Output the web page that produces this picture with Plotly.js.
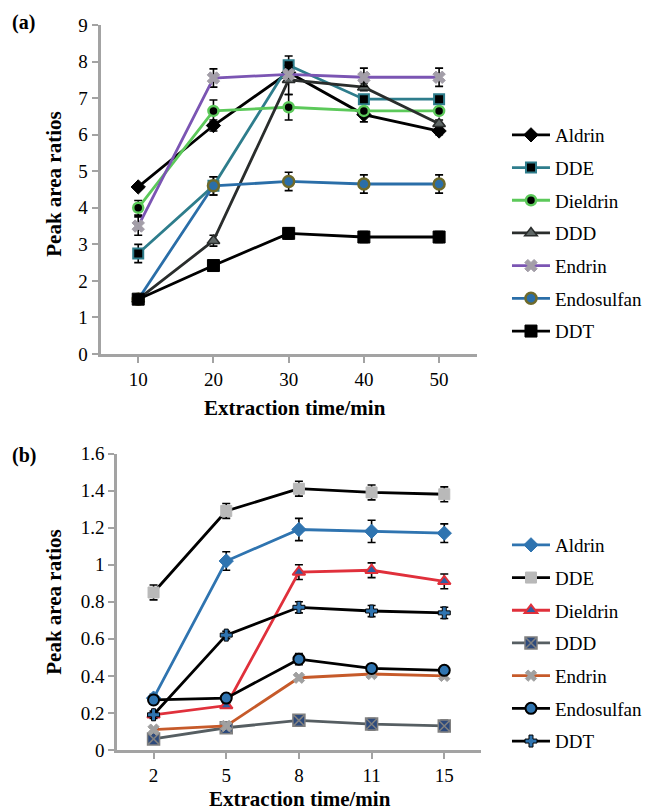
<!DOCTYPE html>
<html>
<head>
<meta charset="utf-8">
<script src="https://cdn.plot.ly/plotly-3.0.1.min.js"></script>
<style>html,body{margin:0;padding:0;background:#fff;}#chart{width:648px;height:810px;}</style>
</head>
<body>
<div id="chart"></div>
<script>
// ---- Data: panel (a) ----
const timesA = ["10", "20", "30", "40", "50"];
const seriesNames = ["Aldrin", "DDE", "Dieldrin", "DDD", "Endrin", "Endosulfan", "DDT"];
const aAldrin = [4.57, 6.25, 7.7, 6.55, 6.1];
const aDDE = [2.75, 4.6, 7.9, 6.97, 6.97];
const aDieldrin = [4.0, 6.65, 6.75, 6.65, 6.65];
const aDDD = [1.5, 3.1, 7.5, 7.3, 6.3];
const aEndrin = [3.5, 7.55, 7.65, 7.57, 7.57];
const aEndosulfan = [1.5, 4.6, 4.72, 4.65, 4.65];
const aDDT = [1.5, 2.42, 3.3, 3.2, 3.2];
const eAldrin = [0.05, 0.15, 0.15, 0.2, 0.1];
const eDDE = [0.25, 0.25, 0.25, 0.1, 0.1];
const eDieldrin = [0.2, 0.3, 0.35, 0.1, 0.1];
const eDDD = [0.05, 0.15, 0.4, 0.1, 0.1];
const eEndrin = [0.25, 0.25, 0.1, 0.25, 0.25];
const eEndosulfan = [0.05, 0.25, 0.25, 0.25, 0.25];
const eDDT = [0.05, 0.1, 0.15, 0.15, 0.15];

// ---- Data: panel (b) ----
const timesB = ["2", "5", "8", "11", "15"];
const bAldrin = [0.28, 1.02, 1.19, 1.18, 1.17];
const bDDE = [0.85, 1.29, 1.41, 1.39, 1.38];
const bDieldrin = [0.19, 0.24, 0.96, 0.97, 0.91];
const bDDD = [0.06, 0.12, 0.16, 0.14, 0.13];
const bEndrin = [0.11, 0.13, 0.39, 0.41, 0.40];
const bEndosulfan = [0.27, 0.28, 0.49, 0.44, 0.43];
const bDDT = [0.19, 0.62, 0.77, 0.75, 0.74];
const fAldrin = [0.02, 0.05, 0.06, 0.06, 0.05];
const fDDE = [0.04, 0.04, 0.04, 0.04, 0.04];
const fDieldrin = [0.01, 0.01, 0.04, 0.04, 0.04];
const fDDD = [0.02, 0.02, 0.03, 0.03, 0.03];
const fEndrin = [0.01, 0.01, 0.01, 0.01, 0.01];
const fEndosulfan = [0.02, 0.02, 0.03, 0.02, 0.02];
const fDDT = [0.02, 0.02, 0.03, 0.03, 0.03];

const serif = "Liberation Serif";

function tr(x, y, err, name, lineColor, marker, xa, ya, leg, grp) {
  return {
    type: "scatter", mode: "lines+markers", x: x, y: y, name: name,
    xaxis: xa, yaxis: ya, legend: leg, legendgroup: grp,
    line: {color: lineColor, width: 2.8},
    marker: marker,
    error_y: {type: "data", array: err, visible: true, color: "#000", thickness: 1.6, width: 4}
  };
}

const dataA = [
  tr(timesA, aAldrin, eAldrin, seriesNames[0], "#000000", {symbol: "diamond", size: 11, color: "#000", line: {color: "#000", width: 1}}, "x", "y", "legend", "a1"),
  tr(timesA, aDDE, eDDE, seriesNames[1], "#2e7d8c", {symbol: "square", size: 10, color: "#000", line: {color: "#2e7d8c", width: 2}}, "x", "y", "legend", "a2"),
  tr(timesA, aDieldrin, eDieldrin, seriesNames[2], "#5cc95a", {symbol: "circle", size: 10, color: "#000", line: {color: "#5cc95a", width: 2.5}}, "x", "y", "legend", "a3"),
  tr(timesA, aDDD, eDDD, seriesNames[3], "#2a2d2c", {symbol: "triangle-up", size: 11, color: "#5f6766", line: {color: "#2a2d2c", width: 1.5}}, "x", "y", "legend", "a4"),
  tr(timesA, aEndrin, eEndrin, seriesNames[4], "#7b55b3", {symbol: "x", size: 11, color: "#a39ea8", line: {color: "#a39ea8", width: 1}}, "x", "y", "legend", "a5"),
  tr(timesA, aEndosulfan, eEndosulfan, seriesNames[5], "#2a6ea8", {symbol: "circle", size: 11, color: "#2a6ea8", line: {color: "#6f6a2a", width: 2.5}}, "x", "y", "legend", "a6"),
  tr(timesA, aDDT, eDDT, seriesNames[6], "#000000", {symbol: "square", size: 12, color: "#000", line: {color: "#000", width: 1}}, "x", "y", "legend", "a7")
];

const dataB = [
  tr(timesB, bAldrin, fAldrin, seriesNames[0], "#2f74b0", {symbol: "diamond", size: 11, color: "#2f74b0", line: {color: "#2f74b0", width: 1}}, "x2", "y2", "legend2", "b1"),
  tr(timesB, bDDE, fDDE, seriesNames[1], "#000000", {symbol: "square", size: 11, color: "#b9b9b9", line: {color: "#b9b9b9", width: 1}}, "x2", "y2", "legend2", "b2"),
  tr(timesB, bDieldrin, fDieldrin, seriesNames[2], "#e0303b", {symbol: "triangle-up", size: 11, color: "#2e5fa3", line: {color: "#e0303b", width: 2}}, "x2", "y2", "legend2", "b3"),
  tr(timesB, bDDD, fDDD, seriesNames[3], "#565e62", {symbol: "square-x", size: 12, color: "#2d4a7c", line: {color: "#808080", width: 1.5}}, "x2", "y2", "legend2", "b4"),
  tr(timesB, bEndrin, fEndrin, seriesNames[4], "#c65a2a", {symbol: "x", size: 10, color: "#a0a0a0", line: {color: "#a0a0a0", width: 1}}, "x2", "y2", "legend2", "b5"),
  tr(timesB, bEndosulfan, fEndosulfan, seriesNames[5], "#000000", {symbol: "circle", size: 11, color: "#2f74b0", line: {color: "#000", width: 2}}, "x2", "y2", "legend2", "b6"),
  tr(timesB, bDDT, fDDT, seriesNames[6], "#000000", {symbol: "cross", size: 10, color: "#2f74b0", line: {color: "#000", width: 1}}, "x2", "y2", "legend2", "b7")
];

const W = 648, H = 810;
const px = v => v / W;
const py = v => 1 - v / H;

const axisCommon = {
  showgrid: false, zeroline: false, showline: true, linecolor: "#a3a3a3", linewidth: 3,
  ticks: "outside", tickcolor: "#a3a3a3", tickwidth: 2, ticklen: 6,
  tickfont: {family: serif, size: 19, color: "#000"}
};

const legendCommon = {
  xanchor: "left", yanchor: "top", font: {family: serif, size: 19, color: "#000"},
  bgcolor: "rgba(0,0,0,0)", borderwidth: 0, traceorder: "grouped", tracegroupgap: 5, itemwidth: 38
};

const layout = {
  width: W, height: H, margin: {l: 0, r: 0, t: 0, b: 0},
  font: {family: serif, color: "#000"},
  paper_bgcolor: "#fff", plot_bgcolor: "#fff", showlegend: true,
  xaxis: Object.assign({}, axisCommon, {domain: [px(103), px(488)], anchor: "y", type: "category", range: [-0.5, 4.5]}),
  yaxis: Object.assign({}, axisCommon, {domain: [py(354), py(25)], anchor: "x", range: [0, 9], dtick: 1}),
  xaxis2: Object.assign({}, axisCommon, {domain: [px(120), px(492)], anchor: "y2", type: "category", range: [-0.5, 4.5]}),
  yaxis2: Object.assign({}, axisCommon, {domain: [py(750), py(453.5)], anchor: "x2", range: [0, 1.6], dtick: 0.2}),
  legend: Object.assign({}, legendCommon, {x: px(519), y: py(116)}),
  legend2: Object.assign({}, legendCommon, {x: px(519), y: py(526)}),
  annotations: [
    {text: "<b>(a)</b>", xref: "paper", yref: "paper", x: px(10), y: py(23), xanchor: "left", yanchor: "middle", showarrow: false, font: {family: serif, size: 20, color: "#000"}},
    {text: "<b>(b)</b>", xref: "paper", yref: "paper", x: px(10), y: py(455), xanchor: "left", yanchor: "middle", showarrow: false, font: {family: serif, size: 20, color: "#000"}},
    {text: "<b>Peak area ratios</b>", xref: "paper", yref: "paper", x: px(55), y: py(184), xanchor: "center", yanchor: "middle", textangle: -90, showarrow: false, font: {family: serif, size: 21, color: "#000"}},
    {text: "<b>Peak area ratios</b>", xref: "paper", yref: "paper", x: px(55), y: py(602), xanchor: "center", yanchor: "middle", textangle: -90, showarrow: false, font: {family: serif, size: 21, color: "#000"}},
    {text: "<b>Extraction time/min</b>", xref: "paper", yref: "paper", x: px(302), y: py(408), xanchor: "center", yanchor: "middle", showarrow: false, font: {family: serif, size: 21, color: "#000"}},
    {text: "<b>Extraction time/min</b>", xref: "paper", yref: "paper", x: px(307), y: py(799), xanchor: "center", yanchor: "middle", showarrow: false, font: {family: serif, size: 21, color: "#000"}}
  ]
};

Plotly.newPlot("chart", dataA.concat(dataB), layout, {displayModeBar: false, staticPlot: true});
</script>
</body>
</html>
